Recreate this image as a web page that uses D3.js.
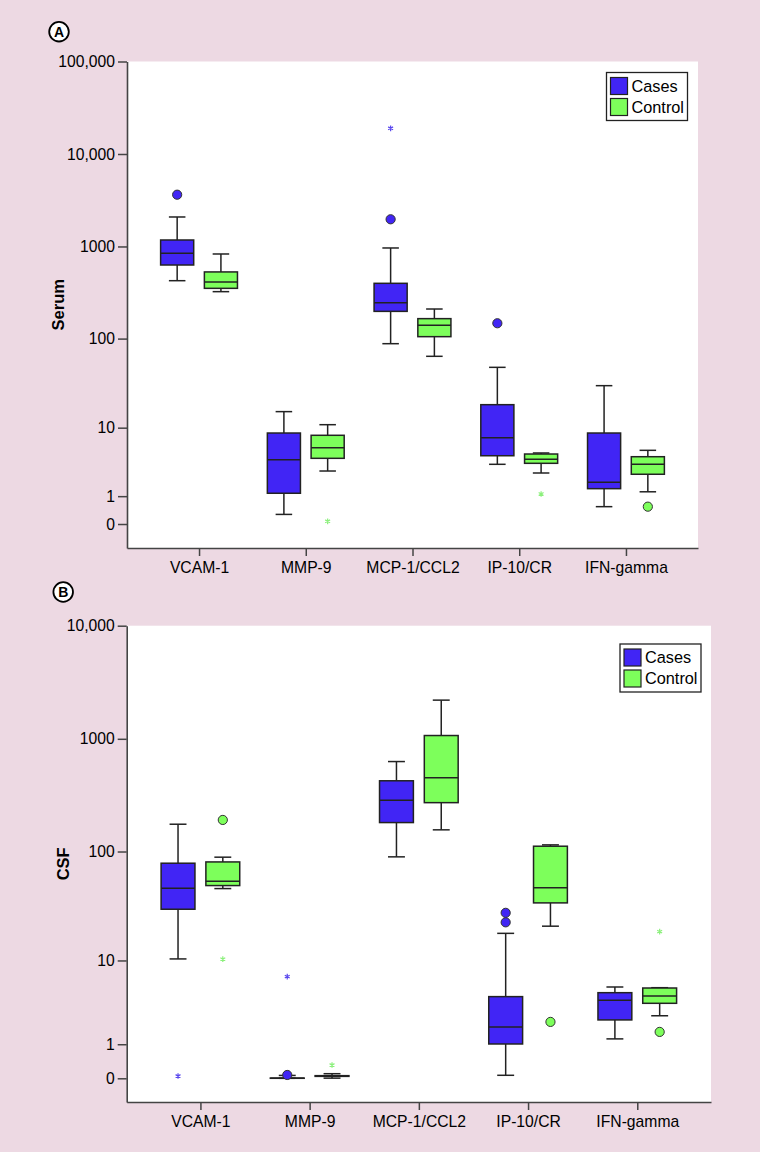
<!DOCTYPE html>
<meta charset="utf-8">
<script src="https://d3js.org/d3.v7.min.js"></script>
<style>
  body { margin: 0; }
  text { font-family: "Liberation Sans", Arial, sans-serif; }
</style>
<div id="my_dataviz"></div>
<script>

// categories and groups
var categories = ["VCAM-1", "MMP-9", "MCP-1/CCL2", "IP-10/CR", "IFN-gamma"];
var groups = ["Cases", "Control"];

// box stats per category: [lower whisker, Q1, median, Q3, upper whisker]
var serumCases = [
  [426, 630, 844, 1175, 2084],
  [0.27, 1.15, 3.95, 8.63, 15.4],
  [88, 198, 246, 399, 963],
  [3.42, 4.47, 7.57, 18.5, 48.4],
  [0.54, 1.41, 1.82, 8.63, 30.3]
];
var serumControl = [
  [324, 352, 413, 530, 829],
  [2.74, 4.13, 5.68, 8.1, 10.85],
  [64, 105, 140, 165, 210],
  [2.56, 3.53, 4.0, 4.71, 4.86],
  [1.23, 2.45, 3.42, 4.34, 5.26]
];
// outliers (circles) and extremes (stars)
var serumCasesCircles = [[3630], [], [1968], [147], []];
var serumCasesStars = [[], [], [18960], [], []];
var serumControlCircles = [[], [], [], [], [0.54]];
var serumControlStars = [[], [0.07], [], [1.11], []];

var csfCases = [
  [10.35, 30.2, 46.9, 78.6, 175],
  [0, 0, 0, 0.005, 0.06],
  [89.6, 181, 286, 425, 629],
  [0.063, 1.01, 1.84, 4.27, 18.1],
  [1.23, 2.28, 3.9, 4.71, 5.41]
];
var csfControl = [
  [46.5, 49.5, 54.2, 80.7, 89],
  [0.003, 0.04, 0.048, 0.055, 0.098],
  [156, 272, 451, 1069, 2198],
  [21.1, 34.5, 47.2, 111.5, 114.6],
  [2.57, 3.6, 4.34, 5.28, 5.32]
];
var csfCasesCircles = [[], [0.07], [], [22.9, 28], []];
var csfCasesStars = [[0.047], [6.91], [], [], []];
var csfControlCircles = [[191], [], [], [2.15], [1.57]];
var csfControlStars = [[10.3], [0.31], [], [], [18.8]];

// tick values and labels
var serumTicks = [0, 1, 10, 100, 1000, 10000, 100000];
var serumTickLabels = ["0", "1", "10", "100", "1000", "10,000", "100,000"];
var csfTicks = [0, 1, 10, 100, 1000, 10000];
var csfTickLabels = ["0", "1", "10", "100", "1000", "10,000"];

var colors = {Cases: "#4125f5", Control: "#7dff5b"};
var starColors = {Cases: "#5a48ee", Control: "#8cf07c"};

var width = 760, height = 1152;

var svg = d3.select("#my_dataviz")
  .append("svg")
    .attr("width", width)
    .attr("height", height);

svg.append("rect")
  .attr("width", width)
  .attr("height", height)
  .attr("fill", "#edd9e3");

var panels = [
  {letter: "A", title: "Serum", left: 127, right: 698, top: 61.5, bottom: 548,
   yMin: -0.817, yMax: 100000, ticks: serumTicks, tickLabels: serumTickLabels,
   cases: serumCases, control: serumControl,
   casesCircles: serumCasesCircles, casesStars: serumCasesStars,
   controlCircles: serumControlCircles, controlStars: serumControlStars,
   legendX: 606.5, legendY: 72.5, letterX: 59, letterY: 31.7, titleX: 58.5},
  {letter: "B", title: "CSF", left: 126.7, right: 711, top: 625.7, bottom: 1102,
   yMin: -0.62, yMax: 10000, ticks: csfTicks, tickLabels: csfTickLabels,
   cases: csfCases, control: csfControl,
   casesCircles: csfCasesCircles, casesStars: csfCasesStars,
   controlCircles: csfControlCircles, controlStars: csfControlStars,
   legendX: 620, legendY: 644, letterX: 63.2, letterY: 592, titleX: 63.2}
];

panels.forEach(drawPanel);

function drawPanel(p) {
  var g = svg.append("g");

  // white plot area
  g.append("rect")
    .attr("x", p.left)
    .attr("y", p.top)
    .attr("width", p.right - p.left)
    .attr("height", p.bottom - p.top)
    .attr("fill", "white");

  var x = d3.scalePoint()
    .domain(categories)
    .range([p.left, p.right])
    .padding(0.675);

  var y = d3.scaleSymlog()
    .constant(1)
    .domain([p.yMin, p.yMax])
    .range([p.bottom, p.top]);

  var step = x.step();
  var offset = step * 0.205;
  var boxW = step * 0.31;
  var capW = boxW * 0.5;

  // axes
  var yAxis = g.append("g")
    .attr("transform", "translate(" + p.left + ",0)")
    .call(d3.axisLeft(y)
      .tickValues(p.ticks)
      .tickFormat(function(d, i) { return p.tickLabels[i]; })
      .tickSize(9)
      .tickSizeOuter(0)
      .tickPadding(3));

  var xAxis = g.append("g")
    .attr("transform", "translate(0," + p.bottom + ")")
    .call(d3.axisBottom(x)
      .tickSize(8)
      .tickSizeOuter(0)
      .tickPadding(6));

  [yAxis, xAxis].forEach(function(a) {
    a.attr("font-family", "Liberation Sans, Arial, sans-serif")
     .attr("font-size", 15.7);
    a.select(".domain").attr("stroke", "#444").attr("stroke-width", 1.6);
    a.selectAll(".tick line").attr("stroke", "#444").attr("stroke-width", 1.5);
    a.selectAll(".tick text").attr("fill", "#000");
  });

  // y title
  g.append("text")
    .attr("transform", "translate(" + p.titleX + "," + ((p.top + p.bottom) / 2) + ") rotate(-90)")
    .attr("text-anchor", "middle")
    .attr("dy", "0.35em")
    .attr("font-size", 16.5)
    .attr("font-weight", "bold")
    .attr("fill", "#000")
    .text(p.title);

  // panel letter
  g.append("circle")
    .attr("cx", p.letterX)
    .attr("cy", p.letterY)
    .attr("r", 9.8)
    .attr("fill", "white")
    .attr("stroke", "#000")
    .attr("stroke-width", 1.8);
  g.append("text")
    .attr("x", p.letterX)
    .attr("y", p.letterY)
    .attr("dy", "0.36em")
    .attr("text-anchor", "middle")
    .attr("font-size", 14)
    .attr("font-weight", "bold")
    .attr("fill", "#000")
    .text(p.letter);

  // boxes
  var series = [
    {name: "Cases", stats: p.cases, circles: p.casesCircles, stars: p.casesStars, dx: -offset},
    {name: "Control", stats: p.control, circles: p.controlCircles, stars: p.controlStars, dx: offset}
  ];

  series.forEach(function(s) {
    var boxes = g.append("g").selectAll("g")
      .data(s.stats)
      .enter().append("g")
        .attr("transform", function(d, i) { return "translate(" + (x(categories[i]) + s.dx) + ",0)"; });

    // whiskers
    boxes.append("line")
      .attr("x1", 0).attr("x2", 0)
      .attr("y1", function(d) { return y(d[4]); })
      .attr("y2", function(d) { return y(d[3]); })
      .attr("stroke", "#222").attr("stroke-width", 1.5);
    boxes.append("line")
      .attr("x1", 0).attr("x2", 0)
      .attr("y1", function(d) { return y(d[1]); })
      .attr("y2", function(d) { return y(d[0]); })
      .attr("stroke", "#222").attr("stroke-width", 1.5);
    boxes.selectAll(".cap")
      .data(function(d) { return [d[0], d[4]]; })
      .enter().append("line")
        .attr("class", "cap")
        .attr("x1", -capW / 2).attr("x2", capW / 2)
        .attr("y1", function(v) { return y(v); })
        .attr("y2", function(v) { return y(v); })
        .attr("stroke", "#222").attr("stroke-width", 1.5);

    // box
    boxes.append("rect")
      .attr("x", -boxW / 2)
      .attr("width", boxW)
      .attr("y", function(d) { return y(d[3]); })
      .attr("height", function(d) { return y(d[1]) - y(d[3]); })
      .attr("fill", colors[s.name])
      .attr("stroke", "#222")
      .attr("stroke-width", 1.5);

    // median
    boxes.append("line")
      .attr("x1", -boxW / 2).attr("x2", boxW / 2)
      .attr("y1", function(d) { return y(d[2]); })
      .attr("y2", function(d) { return y(d[2]); })
      .attr("stroke", "#222").attr("stroke-width", 1.5);

    // outlier circles
    s.circles.forEach(function(list, i) {
      g.selectAll(null)
        .data(list)
        .enter().append("circle")
          .attr("cx", x(categories[i]) + s.dx)
          .attr("cy", function(v) { return y(v); })
          .attr("r", 4.6)
          .attr("fill", colors[s.name])
          .attr("stroke", "#333")
          .attr("stroke-width", 1);
    });

    // extreme stars
    s.stars.forEach(function(list, i) {
      g.selectAll(null)
        .data(list)
        .enter().append("path")
          .attr("d", d3.symbol().type(d3.symbolAsterisk).size(22))
          .attr("transform", function(v) { return "translate(" + (x(categories[i]) + s.dx) + "," + y(v) + ")"; })
          .attr("fill", "none")
          .attr("stroke", starColors[s.name])
          .attr("stroke-width", 1.2);
    });
  });

  // legend
  var lg = g.append("g")
    .attr("transform", "translate(" + p.legendX + "," + p.legendY + ")");
  lg.append("rect")
    .attr("width", 81)
    .attr("height", 48)
    .attr("fill", "white")
    .attr("stroke", "#222")
    .attr("stroke-width", 1.3);
  groups.forEach(function(name, i) {
    lg.append("rect")
      .attr("x", 4)
      .attr("y", 5 + i * 21)
      .attr("width", 17)
      .attr("height", 17)
      .attr("fill", colors[name])
      .attr("stroke", "#222")
      .attr("stroke-width", 1.2);
    lg.append("text")
      .attr("x", 25)
      .attr("y", 19.3 + i * 21)
      .attr("font-size", 16.3)
      .attr("fill", "#000")
      .text(name);
  });
}
</script>
